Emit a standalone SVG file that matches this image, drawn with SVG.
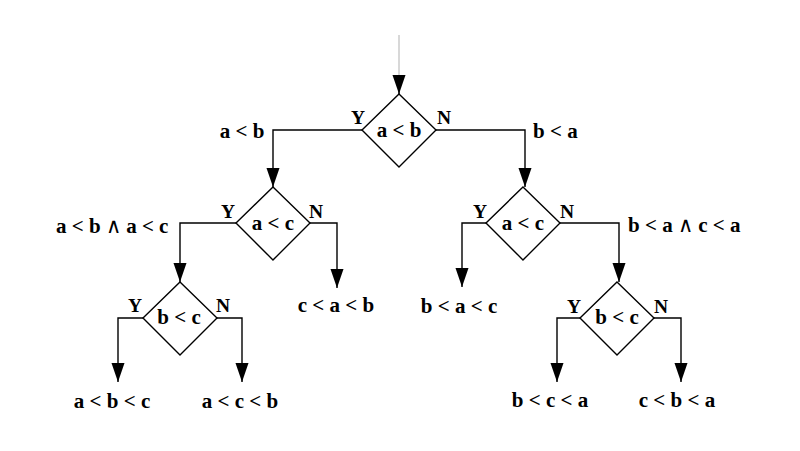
<svg xmlns="http://www.w3.org/2000/svg" width="800" height="451" viewBox="0 0 800 451">
<defs>
<marker id="ah" markerUnits="userSpaceOnUse" markerWidth="20" markerHeight="14" refX="19" refY="6.5" orient="auto">
<path d="M0,0 L19,6.5 L0,13 z" fill="#000"/>
</marker>
<style>
.d{fill:#fff;stroke:#000;stroke-width:1.4}
.c{fill:none;stroke:#000;stroke-width:1.4;marker-end:url(#ah)}
text{font-family:"Liberation Serif","Times New Roman",serif;font-weight:bold;fill:#000}
.t{font-size:21px}
.yn{font-size:19.5px}
.m{text-anchor:middle}
.w{font-weight:normal}
</style>
</defs>
<rect width="800" height="451" fill="#fff"/>
<g id="connectors">
<path d="M399,35 L399,80" stroke="#c8c8c8" stroke-width="1.4" fill="none"/>
<path d="M399,79 L399,94" class="c"/>
<path class="c" d="M362,130 H273 V187"/>
<path class="c" d="M436,130 H525 V187"/>
<path class="c" d="M236,223 H180 V282"/>
<path class="c" d="M310,223 H337 V288"/>
<path class="c" d="M486,223 H462 V287"/>
<path class="c" d="M560,223 H619 V282"/>
<path class="c" d="M143,318 H118 V382"/>
<path class="c" d="M217,318 H242 V382"/>
<path class="c" d="M580,318 H557 V382"/>
<path class="c" d="M654,318 H681 V382"/>
</g>
<g id="n1">
<path class="d" d="M399,94 L436,130 L399,167 L362,130 z"/>
<text class="t m" x="399" y="137">a &lt; b</text>
<text class="yn" x="351" y="124">Y</text>
<text class="yn" x="437" y="124">N</text>
</g>
<g id="n2">
<path class="d" d="M273,187 L310,223 L273,260 L236,223 z"/>
<text class="t m" x="273" y="230">a &lt; c</text>
<text class="yn" x="221" y="218">Y</text>
<text class="yn" x="309" y="218">N</text>
</g>
<g id="n3">
<path class="d" d="M523,187 L560,223 L523,260 L486,223 z"/>
<text class="t m" x="523" y="230">a &lt; c</text>
<text class="yn" x="473" y="218">Y</text>
<text class="yn" x="560" y="218">N</text>
</g>
<g id="n4">
<path class="d" d="M180,282 L217,318 L180,355 L143,318 z"/>
<text class="t m" x="179" y="324">b &lt; c</text>
<text class="yn" x="128" y="312">Y</text>
<text class="yn" x="216" y="312">N</text>
</g>
<g id="n5">
<path class="d" d="M617,282 L654,318 L617,355 L580,318 z"/>
<text class="t m" x="617" y="324">b &lt; c</text>
<text class="yn" x="567" y="313">Y</text>
<text class="yn" x="654" y="313">N</text>
</g>
<g id="labels">
<text class="t m" x="242" y="138">a &lt; b</text>
<text class="t" x="533" y="138">b &lt; a</text>
<text class="t" x="56" y="233">a &lt; b <tspan class="w">∧</tspan> a &lt; c</text>
<text class="t" x="628" y="232">b &lt; a <tspan class="w">∧</tspan> c &lt; a</text>
<text class="t m" x="336" y="312">c &lt; a &lt; b</text>
<text class="t m" x="459" y="313">b &lt; a &lt; c</text>
<text class="t m" x="112" y="408">a &lt; b &lt; c</text>
<text class="t m" x="240" y="408">a &lt; c &lt; b</text>
<text class="t m" x="550" y="407">b &lt; c &lt; a</text>
<text class="t m" x="677" y="407">c &lt; b &lt; a</text>
</g>
</svg>
